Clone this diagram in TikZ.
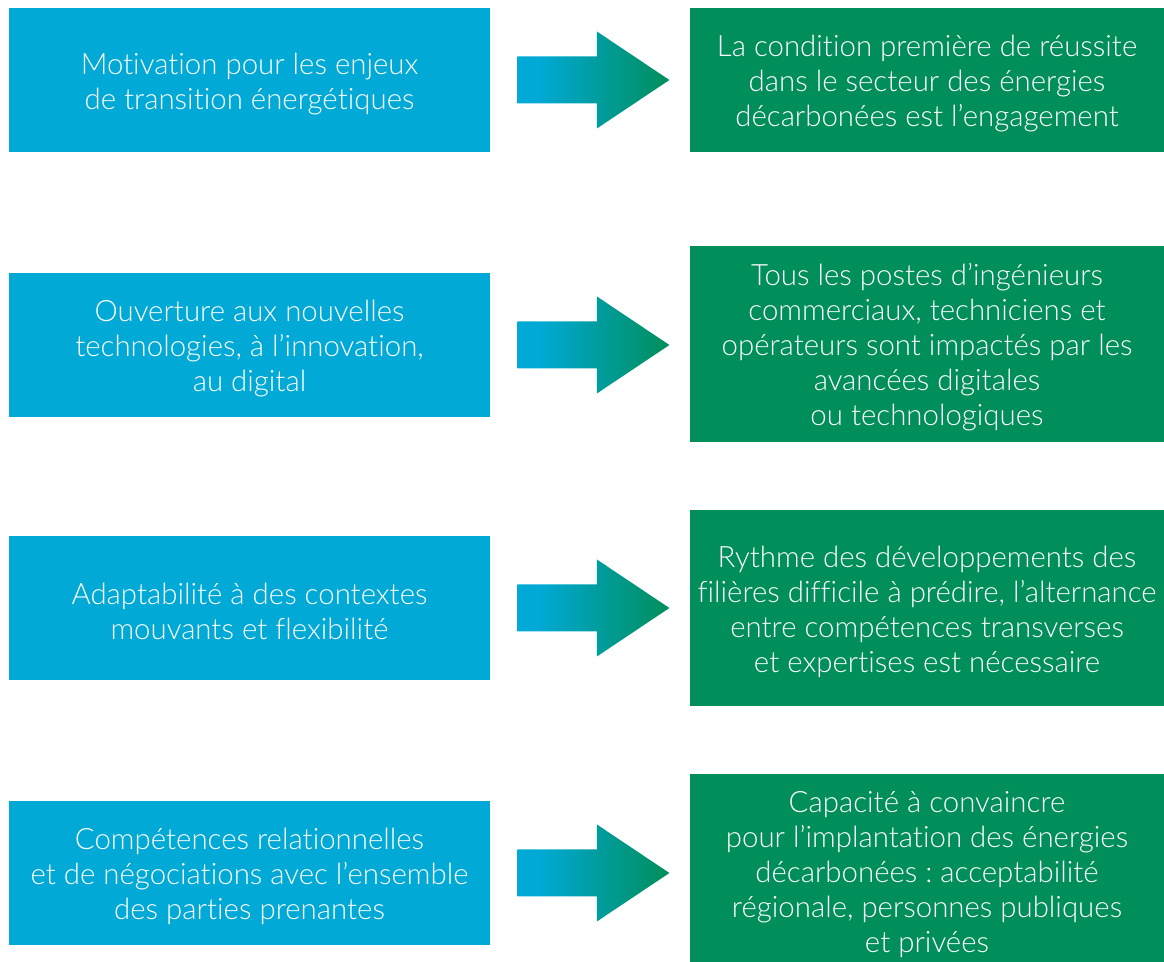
\documentclass[tikz,border=0pt]{standalone}
\usepackage{fontspec}
\setmainfont{Lato Light}[Ligatures={NoCommon,NoRare,NoContextual}]
\usetikzlibrary{calc}
\frenchspacing
\newcommand{\topstrut}{\rule{0pt}{14.5pt}}

\definecolor{boxcyan}{RGB}{0,169,214}
\definecolor{boxgreen}{RGB}{0,142,90}
\pgfdeclarehorizontalshading{arrowshade}{100bp}{color(0bp)=(boxcyan); color(32bp)=(boxcyan); color(75bp)=(boxgreen); color(100bp)=(boxgreen)}

\begin{document}
\begin{tikzpicture}[x=0.5pt,y=-0.5pt,
    txt/.style={text=white, align=center, inner sep=0pt,
      font=\fontsize{14.7pt}{17.5pt}\selectfont},
    leftbox/.style={txt, fill=boxcyan, minimum width=240.5pt, minimum height=72pt},
    rightbox/.style={txt, fill=boxgreen, minimum width=237pt}]
      \useasboundingbox (0,0) rectangle (1164,962);

      % Left boxes
      \node[leftbox] (mot) at (249.5,80) {\topstrut Motivation pour les enjeux\\de transition énergétiques};
      \node[leftbox] (ouv) at (249.5,345) {\topstrut Ouverture aux nouvelles\\technologies, à l’innovation,\\au digital};
      \node[leftbox] (ada) at (249.5,608) {\topstrut Adaptabilité à des contextes\\mouvants et flexibilité};
      \node[leftbox] (com) at (249.5,873) {\topstrut Compétences relationnelles\\et de négociations avec l’ensemble\\des parties prenantes};

      % Right boxes
      \node[rightbox, minimum height=72pt] (cond) at (927,80) {\topstrut La condition première de réussite\\dans le secteur des énergies\\décarbonées est l’engagement};
      \node[rightbox, minimum height=98pt] (post) at (927,344) {\topstrut Tous les postes d’ingénieurs\\commerciaux, techniciens et\\opérateurs sont impactés par les\\avancées digitales\\ou technologiques};
      \node[rightbox, minimum height=98pt] (ryth) at (927,608) {\topstrut Rythme des développements des\\filières difficile à prédire, l’alternance\\entre compétences transverses\\et expertises est nécessaire};
      \node[rightbox, minimum height=94pt] (capa) at (927,868) {};
      \node[txt] at (927,871) {\topstrut Capacité à convaincre\\pour l’implantation des énergies\\décarbonées : acceptabilité\\régionale, personnes publiques\\et privées};

      % Arrows
      \foreach \src in {mot,ouv,ada,com}
        \shade[shading=arrowshade] ($(\src.east)+(27,-23.5)$) -- ++(79.5,0) -- ++(0,-25)
          -- ($(\src.east)+(179,0)$) -- ($(\src.east)+(106.5,48.5)$) -- ++(0,-25)
          -- ($(\src.east)+(27,23.5)$) -- cycle;
\end{tikzpicture}
\end{document}
